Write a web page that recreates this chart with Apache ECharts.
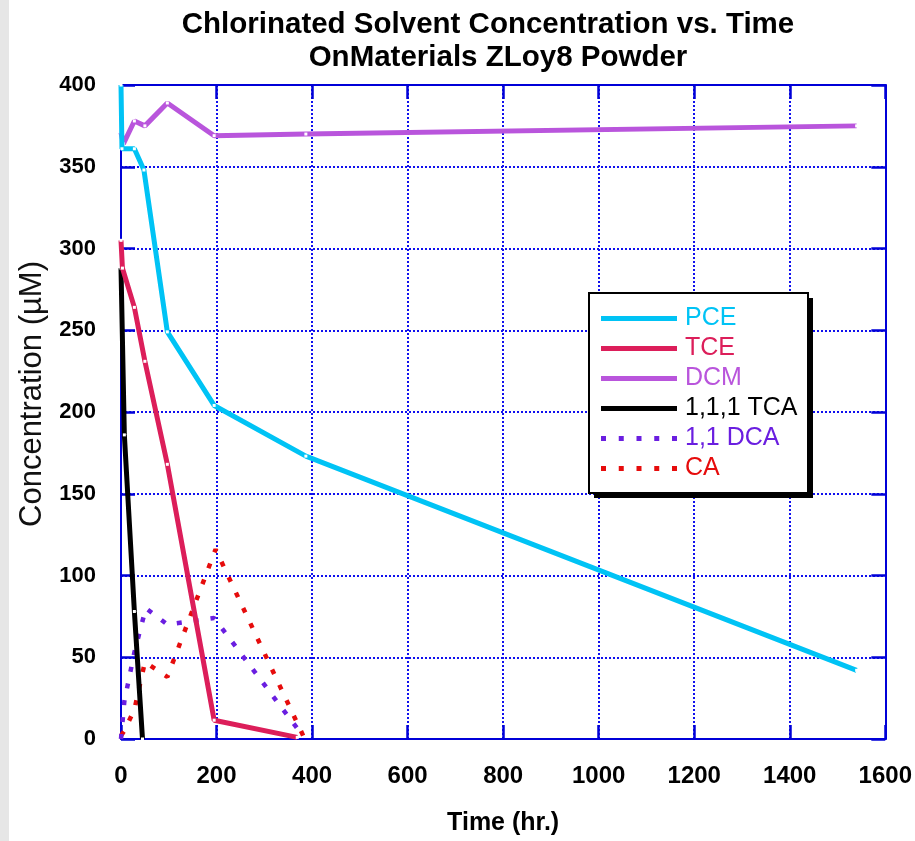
<!DOCTYPE html>
<html>
<head>
<meta charset="utf-8">
<script src="https://cdn.jsdelivr.net/npm/echarts@6/dist/echarts.min.js"></script>
<style>
html,body{margin:0;padding:0;background:#fff;}
#chart{width:915px;height:841px;}
</style>
</head>
<body>
<div id="chart"></div>
<script>
// ---- data (time in hr, concentration in µM) ----
const pce    = [[0,400],[2,361],[28,361],[48,348],[97,249],[195,204],[387,173],[1540,42]];
const tce    = [[0,305],[3,288],[28,264],[50,231],[97,168],[195,11.5],[369,1]];
const dcm    = [[0,371],[5,364],[28,378],[50,375],[97,389],[195,369],[387,370],[1540,375]];
const tca111 = [[0,288],[7,186],[28,78],[45,0]];
const dca11  = [[0,0],[7,23],[28,53],[52,80],[97,70],[195,74],[383,1]];
const ca     = [[0,2],[7,5],[28,18],[50,47],[97,38],[198,116],[383,1]];
const seriesNames = ['PCE','TCE','DCM','1,1,1 TCA','1,1 DCA','CA'];
const xTicks = {min:0, max:1600, interval:200};
const yTicks = {min:0, max:400, interval:50};

const FONT = 'Liberation Sans, Arial, sans-serif';
const AX = '#0000d8';
const colors = ['#00c3f5','#dc1e5a','#b955dc','#000000','#6a1ee0','#e60c0c'];
const dataArr = [pce,tce,dcm,tca111,dca11,ca];
const dotted = [false,false,false,false,true,true];

const dashIcon = 'path://M0,0h5v5h-5zM17.75,0h5v5h-5zM35.5,0h5v5h-5zM53.25,0h5v5h-5zM71,0h5v5h-5z';

const chart = echarts.init(document.getElementById('chart'));

const series = seriesNames.map((n,i)=>({
  name:n, type:'line', data:dataArr[i], xAxisIndex:0, yAxisIndex:0,
  color: colors[i],
  lineStyle:{color:colors[i], width: dotted[i] ? 4.5 : 5, type: dotted[i] ? [5,12] : 'solid', cap:'butt'},
  showSymbol: !dotted[i], symbol:'rect', symbolSize:3,
  itemStyle:{color:'#ffffff', borderWidth:0},
  emphasis:{disabled:true}, animation:false, z: 5 + (5-i)
}));

const axisCommon = {
  axisLine:{show:true, onZero:false, lineStyle:{color:AX, width:2}},
  axisTick:{show:true, inside:true, length:14, lineStyle:{color:AX, width:2.5}},
  splitLine:{show:false}
};

const option = {
  animation:false,
  backgroundColor:'#ffffff',
  title:[
    {text:'Chlorinated Solvent Concentration vs. Time', left:483, top:5, textAlign:'center',
     textStyle:{fontFamily:FONT, fontSize:29.5, fontWeight:'bold', color:'#000'}},
    {text:'OnMaterials ZLoy8 Powder', left:493, top:38, textAlign:'center',
     textStyle:{fontFamily:FONT, fontSize:29.5, fontWeight:'bold', color:'#000'}}
  ],
  grid:{left:121, top:85, width:765, height:658, containLabel:false},
  xAxis:[
    Object.assign({type:'value', position:'bottom', min:xTicks.min, max:xTicks.max, interval:xTicks.interval,
      name:'Time (hr.)', nameLocation:'middle', nameGap:72,
      nameTextStyle:{fontFamily:FONT, fontSize:25, fontWeight:'bold', color:'#000'},
      axisLabel:{fontFamily:FONT, fontSize:24, fontWeight:'bold', color:'#000', margin:25,
                 formatter:(v)=>String(v)}
    }, axisCommon, {splitLine:{show:true, lineStyle:{color:'#1010ee', width:2, type:[2,2]}}}),
    Object.assign({type:'value', position:'top', min:xTicks.min, max:xTicks.max, interval:xTicks.interval,
      axisLabel:{show:false}}, axisCommon)
  ],
  yAxis:[
    Object.assign({type:'value', position:'left', min:yTicks.min, max:yTicks.max, interval:yTicks.interval,
      axisLabel:{fontFamily:FONT, fontSize:22, fontWeight:'bold', color:'#000', margin:25,
                 formatter:(v)=>String(v)}
    }, axisCommon, {splitLine:{show:true, lineStyle:{color:'#1010ee', width:2, type:[2,2]}}}),
    Object.assign({type:'value', position:'right', min:yTicks.min, max:yTicks.max, interval:yTicks.interval,
      axisLabel:{show:false}}, axisCommon)
  ],
  legend:{
    orient:'vertical', left:601, top:306, z:20,
    itemWidth:76, itemHeight:5, itemGap:5, padding:0,
    selectedMode:false,
    textStyle:{fontFamily:FONT, fontSize:25, padding:[0,0,0,3]},
    data: seriesNames.map((n,i)=>({
      name:n, icon: dotted[i] ? dashIcon : 'rect',
      itemStyle:{color:colors[i], borderWidth:0},
      lineStyle:{width:0},
      textStyle:{color:colors[i]}
    }))
  },
  graphic:[
    {type:'rect', z:10, shape:{x:0,y:0,width:9,height:841}, style:{fill:'#e6e6e6'}},
    {type:'rect', z:10, shape:{x:594,y:298,width:219,height:200}, style:{fill:'#000'}},
    {type:'rect', z:11, shape:{x:589,y:293,width:219,height:200}, style:{fill:'#fff', stroke:'#000', lineWidth:2}},
    {type:'text', z:11, x:32, y:394, rotation:Math.PI/2,
     style:{text:'Concentration (µM)', font:'31px '+FONT, fill:'#111', textAlign:'center', textVerticalAlign:'middle'}}
  ],
  series: series
};
chart.setOption(option);
</script>
</body>
</html>
